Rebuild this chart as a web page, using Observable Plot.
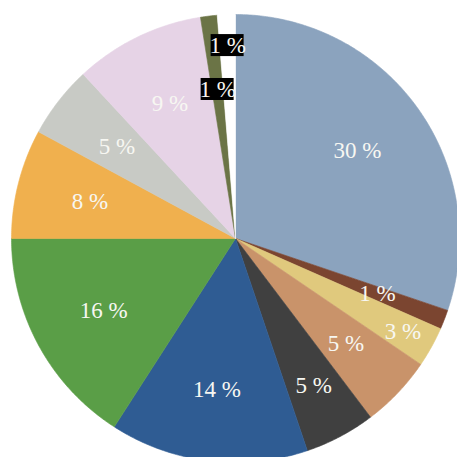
<!DOCTYPE html>
<html><head><meta charset="utf-8">
<script src="https://cdn.jsdelivr.net/npm/d3@7"></script>
<script src="https://cdn.jsdelivr.net/npm/@observablehq/plot@0.6"></script>
<style>html,body{margin:0;padding:0;background:#fff;overflow:hidden}</style>
</head><body><div id="chart"></div>
<script>
// Slices clockwise from 12 o'clock
const shares = [30.2, 1.4, 2.9, 5.2, 5.1, 14.3, 15.9, 7.9, 5.2, 9.4, 1.2, 1.3];
const labels = ["30 %", "1 %", "3 %", "5 %", "5 %", "14 %", "16 %", "8 %", "5 %", "9 %", "1 %", "1 %"];
const colors = ["#8ba3be", "#7b4530", "#e0c97d", "#c9936a", "#404040", "#2f5c93", "#5a9e47", "#f0b04e", "#c8cac5", "#e6d3e6", "#6b7446", "#ffffff"];
const boxed = [false, false, false, false, false, false, false, false, false, false, true, true];

// layout (not data)
const labelRadius = [0.67, 0.68, 0.855, 0.68, 0.745, 0.68, 0.67, 0.67, 0.67, 0.67, 0.67, 0.862];
const W = 457, H = 457, CX = 235, CY = 238, R = 224;

const total = d3.sum(shares);
let acc = 0;
const slices = shares.map((v, i) => {
  const a0 = acc / total * 2 * Math.PI;
  acc += v;
  const a1 = acc / total * 2 * Math.PI;
  return {i, a0, a1, color: colors[i], label: labels[i], boxed: boxed[i]};
});

const pts = [];
for (const s of slices) {
  pts.push({i: s.i, x: 0, y: 0, color: s.color});
  const n = Math.max(2, Math.ceil((s.a1 - s.a0) / (Math.PI / 360)));
  for (let k = 0; k <= n; k++) {
    const a = s.a0 + (s.a1 - s.a0) * k / n;
    pts.push({i: s.i, x: Math.sin(a), y: Math.cos(a), color: s.color});
  }
  pts.push({i: s.i, x: 0, y: 0, color: s.color});
}

const labelPts = slices.map(s => {
  const a = (s.a0 + s.a1) / 2, r = labelRadius[s.i];
  return {x: r * Math.sin(a), y: r * Math.cos(a), label: s.label, boxed: s.boxed};
});
const bw = 33 / R / 2, bh = 22 / R / 2;
const boxes = labelPts.filter(d => d.boxed).map(d => ({x1: d.x - bw, x2: d.x + bw, y1: d.y - bh, y2: d.y + bh}));

const chart = Plot.plot({
  width: W, height: H, margin: 0,
  style: {background: "#fff"},
  x: {axis: null, domain: [-CX / R, (W - CX) / R]},
  y: {axis: null, domain: [-(H - CY) / R, CY / R]},
  color: {type: "identity"},
  marks: [
    Plot.line(pts, {x: "x", y: "y", z: "i", fill: "color", stroke: "color", strokeWidth: 0.6, curve: "linear"}),
    Plot.rect(boxes, {x1: "x1", x2: "x2", y1: "y1", y2: "y2", fill: "#000"}),
    Plot.text(labelPts, {x: "x", y: "y", text: "label", fill: "#f7f7f2", fontSize: 23, fontFamily: "Liberation Serif"})
  ]
});
document.getElementById("chart").appendChild(chart);
</script>
</body></html>
